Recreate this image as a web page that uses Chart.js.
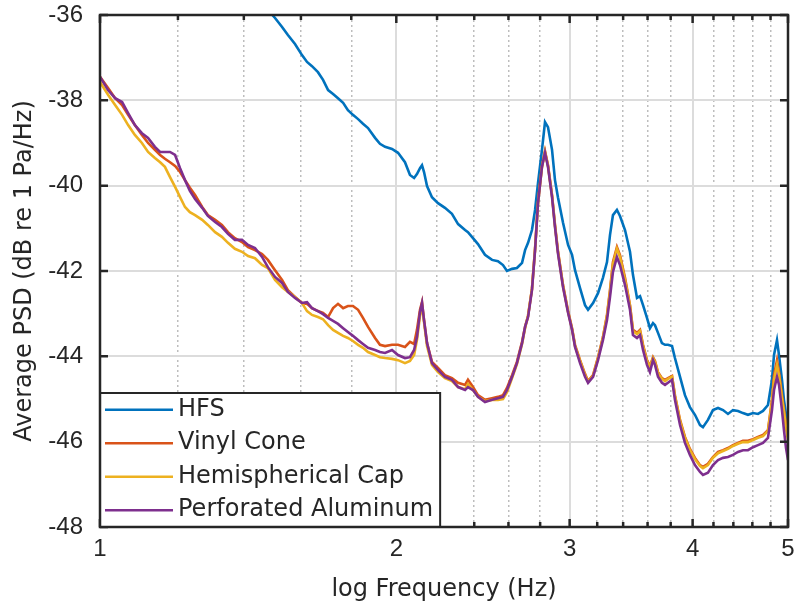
<!DOCTYPE html>
<html>
<head>
<meta charset="utf-8">
<script src="https://cdn.jsdelivr.net/npm/chart.js@4.4.1/dist/chart.umd.min.js"></script>
<style>
  html, body { margin: 0; padding: 0; background: #fff; }
  canvas { display: block; }
</style>
</head>
<body>
<canvas id="psd" width="803" height="611"></canvas>
<script>
// sample frequencies (x, log axis) and PSD values
const freq = [
  1.000, 1.019, 1.036, 1.053, 1.068, 1.085, 1.103, 1.119, 1.137, 1.151,
  1.164, 1.178, 1.192, 1.206, 1.220, 1.234, 1.249, 1.270, 1.287, 1.309,
  1.330, 1.349, 1.371, 1.394, 1.414, 1.437, 1.461, 1.481, 1.506, 1.531,
  1.552, 1.578, 1.604, 1.623, 1.642, 1.665, 1.685, 1.705, 1.725, 1.745,
  1.766, 1.786, 1.807, 1.829, 1.850, 1.872, 1.903, 1.925, 1.948, 1.980,
  2.008, 2.041, 2.065, 2.085, 2.099, 2.114, 2.124, 2.134, 2.149, 2.174,
  2.205, 2.241, 2.278, 2.311, 2.349, 2.365, 2.393, 2.421, 2.461, 2.502,
  2.537, 2.567, 2.591, 2.622, 2.652, 2.684, 2.703, 2.722, 2.747, 2.767,
  2.786, 2.812, 2.832, 2.852, 2.879, 2.899, 2.919, 2.954, 2.989, 3.017,
  3.038, 3.074, 3.110, 3.132, 3.169, 3.206, 3.243, 3.274, 3.297, 3.320,
  3.351, 3.375, 3.415, 3.455, 3.479, 3.512, 3.537, 3.562, 3.595, 3.620,
  3.646, 3.663, 3.689, 3.723, 3.750, 3.776, 3.812, 3.838, 3.884, 3.929,
  3.975, 4.022, 4.070, 4.098, 4.146, 4.195, 4.245, 4.295, 4.345, 4.396,
  4.448, 4.500, 4.553, 4.607, 4.661, 4.716, 4.771, 4.816, 4.839, 4.873,
  4.896, 4.930, 4.953, 4.977, 5.000
];

// HFS runs off the top of the axes below ~1.45 Hz
const hfs = [
  null, null, null, null, null, null, null, null, null, null,
  null, null, null, null, null, null, null, null, null, null,
  null, null, null, null, null, null, -35.70, -35.88, -36.07, -36.28,
  -36.47, -36.68, -36.94, -37.10, -37.20, -37.34, -37.52, -37.76, -37.85, -37.95,
  -38.06, -38.23, -38.34, -38.44, -38.55, -38.65, -38.88, -39.02, -39.09, -39.14,
  -39.23, -39.45, -39.75, -39.82, -39.73, -39.59, -39.52, -39.68, -40.01, -40.27,
  -40.41, -40.52, -40.66, -40.90, -41.04, -41.09, -41.23, -41.37, -41.62, -41.74,
  -41.77, -41.86, -42.00, -41.95, -41.93, -41.81, -41.51, -41.34, -41.04, -40.57,
  -39.94, -39.16, -38.51, -38.63, -39.16, -39.87, -40.27, -40.87, -41.39, -41.62,
  -41.98, -42.40, -42.80, -42.91, -42.75, -42.52, -42.16, -41.79, -41.16, -40.69,
  -40.57, -40.71, -41.04, -41.55, -42.09, -42.63, -42.59, -42.80, -43.10, -43.34,
  -43.22, -43.27, -43.45, -43.69, -43.73, -43.73, -43.76, -44.04, -44.48, -44.91,
  -45.19, -45.37, -45.61, -45.66, -45.49, -45.26, -45.21, -45.26, -45.35, -45.26,
  -45.28, -45.33, -45.37, -45.33, -45.35, -45.28, -45.14, -44.55, -43.97, -43.62,
  -43.97, -44.55, -45.02, -45.37, -45.68
];

const vinylCone = [
  -37.45, -37.71, -37.95, -38.11, -38.34, -38.58, -38.81, -39.00, -39.16, -39.28,
  -39.37, -39.45, -39.54, -39.68, -39.87, -40.05, -40.22, -40.50, -40.69, -40.80,
  -40.92, -41.09, -41.23, -41.32, -41.44, -41.51, -41.60, -41.74, -41.98, -42.21,
  -42.45, -42.61, -42.75, -42.77, -42.87, -42.94, -42.98, -43.08, -42.87, -42.77,
  -42.87, -42.82, -42.82, -42.91, -43.10, -43.31, -43.57, -43.73, -43.76, -43.73,
  -43.73, -43.78, -43.66, -43.71, -43.38, -42.91, -42.73, -43.15, -43.69, -44.13,
  -44.27, -44.44, -44.51, -44.62, -44.67, -44.55, -44.72, -44.91, -45.02, -44.98,
  -44.95, -44.91, -44.74, -44.44, -44.13, -43.66, -43.31, -43.05, -42.42, -41.48,
  -40.38, -39.54, -39.19, -39.52, -40.22, -40.92, -41.53, -42.33, -42.94, -43.34,
  -43.73, -44.09, -44.41, -44.58, -44.44, -44.02, -43.55, -43.03, -42.45, -41.79,
  -41.44, -41.63, -42.16, -42.80, -43.38, -43.45, -43.38, -43.73, -44.09, -44.23,
  -44.02, -44.11, -44.37, -44.51, -44.55, -44.51, -44.46, -44.91, -45.49, -45.89,
  -46.17, -46.38, -46.55, -46.59, -46.52, -46.36, -46.24, -46.20, -46.15, -46.08,
  -46.03, -45.98, -45.98, -45.94, -45.89, -45.84, -45.73, -45.02, -44.44, -44.09,
  -44.37, -44.91, -45.26, -45.61, -45.89
];

const hemiCap = [
  -37.57, -37.87, -38.11, -38.34, -38.58, -38.81, -39.00, -39.21, -39.35, -39.45,
  -39.56, -39.80, -40.03, -40.27, -40.50, -40.62, -40.69, -40.80, -40.92, -41.09,
  -41.20, -41.34, -41.48, -41.55, -41.65, -41.70, -41.86, -41.93, -42.21, -42.38,
  -42.49, -42.61, -42.75, -42.94, -43.03, -43.08, -43.13, -43.27, -43.38, -43.45,
  -43.52, -43.57, -43.64, -43.73, -43.80, -43.90, -43.97, -44.02, -44.04, -44.06,
  -44.09, -44.16, -44.11, -43.97, -43.62, -43.05, -42.82, -43.20, -43.76, -44.20,
  -44.37, -44.51, -44.58, -44.72, -44.77, -44.65, -44.79, -44.95, -45.05, -45.02,
  -45.02, -45.00, -44.84, -44.51, -44.18, -43.71, -43.34, -43.05, -42.42, -41.48,
  -40.41, -39.56, -39.21, -39.54, -40.24, -40.95, -41.55, -42.35, -42.96, -43.36,
  -43.76, -44.11, -44.44, -44.60, -44.46, -44.04, -43.57, -43.05, -42.49, -41.84,
  -41.48, -41.67, -42.21, -42.82, -43.41, -43.48, -43.41, -43.76, -44.11, -44.25,
  -44.04, -44.13, -44.39, -44.53, -44.58, -44.53, -44.48, -44.93, -45.52, -45.91,
  -46.20, -46.41, -46.57, -46.62, -46.55, -46.38, -46.27, -46.22, -46.17, -46.10,
  -46.05, -46.01, -46.01, -45.96, -45.91, -45.87, -45.75, -45.07, -44.55, -44.20,
  -44.44, -44.98, -45.30, -45.68, -45.96
];

const perfAlu = [
  -37.45, -37.76, -37.95, -38.04, -38.30, -38.58, -38.77, -38.88, -39.09, -39.21,
  -39.21, -39.21, -39.28, -39.59, -39.87, -40.12, -40.31, -40.52, -40.71, -40.85,
  -40.97, -41.13, -41.27, -41.27, -41.39, -41.46, -41.67, -41.91, -42.14, -42.28,
  -42.49, -42.63, -42.75, -42.73, -42.87, -42.94, -43.01, -43.10, -43.17, -43.24,
  -43.34, -43.43, -43.52, -43.62, -43.71, -43.80, -43.85, -43.90, -43.92, -43.85,
  -43.97, -44.04, -44.02, -43.85, -43.55, -42.96, -42.75, -43.15, -43.69, -44.16,
  -44.32, -44.48, -44.55, -44.72, -44.79, -44.72, -44.79, -44.95, -45.07, -45.02,
  -44.98, -44.95, -44.79, -44.48, -44.16, -43.69, -43.31, -43.08, -42.45, -41.51,
  -40.41, -39.56, -39.23, -39.56, -40.27, -40.97, -41.58, -42.38, -42.98, -43.38,
  -43.78, -44.16, -44.48, -44.62, -44.48, -44.09, -43.62, -43.15, -42.61, -42.02,
  -41.67, -41.86, -42.33, -42.91, -43.50, -43.57, -43.50, -43.85, -44.20, -44.37,
  -44.09, -44.20, -44.48, -44.62, -44.67, -44.62, -44.55, -45.02, -45.61, -46.03,
  -46.31, -46.55, -46.71, -46.78, -46.73, -46.55, -46.43, -46.38, -46.36, -46.31,
  -46.24, -46.20, -46.20, -46.13, -46.08, -46.03, -45.91, -45.26, -44.79, -44.48,
  -44.67, -45.26, -45.73, -46.15, -46.43
];

const seriesNames = ['HFS', 'Vinyl Cone', 'Hemispherical Cap', 'Perforated Aluminum'];
const seriesColors = ['#0072BD', '#D95319', '#EDB120', '#7E2F8E'];

const yTicks = [-48, -46, -44, -42, -40, -38, -36];
const xMajor = [1, 2, 3, 4, 5];
const xMinor = [1.2, 1.4, 1.6, 1.8, 2.2, 2.4, 2.6, 2.8, 3.2, 3.4, 3.6, 3.8, 4.2, 4.4, 4.6, 4.8];

const ink = '#262626';
const tickFont = { family: '"Liberation Sans", Arial, sans-serif', size: 24 };
const labelFamily = '"DejaVu Sans", sans-serif';

const allSeries = [hfs, vinylCone, hemiCap, perfAlu];
const datasets = allSeries.map((vals, i) => ({
  label: seriesNames[i],
  data: freq.map((f, j) => ({ x: f, y: vals[j] })),
  borderColor: seriesColors[i],
  backgroundColor: seriesColors[i],
  borderWidth: 2.6,
  pointRadius: 0,
  tension: 0,
  order: allSeries.length - 1 - i // last series drawn on top, like MATLAB
}));

// MATLAB style: inward ticks, boxed axes, boxed legend in the lower left
const matlabAxes = {
  id: 'matlabAxes',
  afterDatasetsDraw(chart) {
    const { ctx, chartArea: a, scales: { x, y } } = chart;
    ctx.save();
    ctx.strokeStyle = ink;
    ctx.lineWidth = 2.5;
    ctx.beginPath();
    yTicks.forEach(v => {
      const py = y.getPixelForValue(v);
      ctx.moveTo(a.left, py); ctx.lineTo(a.left + 8, py);
      ctx.moveTo(a.right, py); ctx.lineTo(a.right - 8, py);
    });
    x.ticks.forEach(t => {
      const px = x.getPixelForValue(t.value);
      const len = t.major ? 8 : 5;
      ctx.moveTo(px, a.top); ctx.lineTo(px, a.top + len);
      ctx.moveTo(px, a.bottom); ctx.lineTo(px, a.bottom - len);
    });
    ctx.stroke();

    // legend
    const items = chart.data.datasets;
    ctx.font = '24px ' + labelFamily;
    const rowH = 33.5, padL = 5, sample = 68, gap = 5, padR = 7;
    const textW = Math.max(...items.map(d => ctx.measureText(d.label).width));
    const w = padL + sample + gap + textW + padR;
    const h = rowH * items.length;
    const lx = a.left, ly = a.bottom - h;
    ctx.fillStyle = '#fff';
    ctx.fillRect(lx, ly, w, h);
    ctx.textBaseline = 'middle';
    ctx.textAlign = 'left';
    items.forEach((d, i) => {
      const cy = ly + rowH * (i + 0.5);
      ctx.strokeStyle = d.borderColor;
      ctx.lineWidth = 2.5;
      ctx.beginPath();
      ctx.moveTo(lx + padL, cy); ctx.lineTo(lx + padL + sample, cy);
      ctx.stroke();
      ctx.fillStyle = ink;
      ctx.fillText(d.label, lx + padL + sample + gap, cy);
    });
    ctx.strokeStyle = ink;
    ctx.lineWidth = 2;
    ctx.strokeRect(lx, ly, w, h);

    // axes box
    ctx.lineWidth = 2.5;
    ctx.strokeRect(a.left, a.top, a.right - a.left, a.bottom - a.top);
    ctx.restore();
  }
};

new Chart(document.getElementById('psd'), {
  type: 'line',
  data: { datasets },
  options: {
    responsive: false,
    animation: false,
    events: [],
    layout: { padding: { top: 15, right: 15, bottom: 0, left: 0 } },
    plugins: { legend: { display: false }, tooltip: { enabled: false } },
    scales: {
      x: {
        type: 'logarithmic',
        min: 1,
        max: 5,
        afterBuildTicks(scale) {
          scale.ticks = [...xMajor, ...xMinor].sort((p, q) => p - q)
            .map(v => ({ value: v, major: xMajor.includes(v) }));
        },
        afterFit(scale) { scale.height = 84; },
        ticks: {
          autoSkip: false,
          maxRotation: 0,
          padding: 8,
          font: tickFont,
          color: ink,
          callback: v => (xMajor.includes(v) ? String(v) : '')
        },
        grid: {
          drawTicks: false,
          color: c => (c.tick && c.tick.major ? '#dcdcdc' : '#bdbdbd'),
          lineWidth: c => (c.tick && c.tick.major ? 2 : 1.5)
        },
        border: { display: false, dash: c => (c.tick && !c.tick.major ? [2, 3] : []) },
        title: {
          display: true,
          text: 'log Frequency (Hz)',
          font: { family: labelFamily, size: 24 },
          color: ink,
          padding: { top: 0, bottom: 7 }
        }
      },
      y: {
        min: -48,
        max: -36,
        afterBuildTicks(scale) { scale.ticks = yTicks.map(v => ({ value: v })); },
        afterFit(scale) {
          scale.width = 100;
          // label padding is horizontal only; keep the plot top at the layout padding
          scale.paddingTop = 0;
          scale.paddingBottom = 0;
        },
        ticks: { padding: 17, font: tickFont, color: ink },
        grid: { drawTicks: false, color: '#dcdcdc', lineWidth: 2 },
        border: { display: false },
        title: {
          display: true,
          text: 'Average PSD (dB re 1 Pa/Hz)',
          font: { family: labelFamily, size: 24 },
          color: ink,
          padding: { top: 10, bottom: 0 }
        }
      }
    }
  },
  plugins: [matlabAxes]
});
</script>
</body>
</html>
